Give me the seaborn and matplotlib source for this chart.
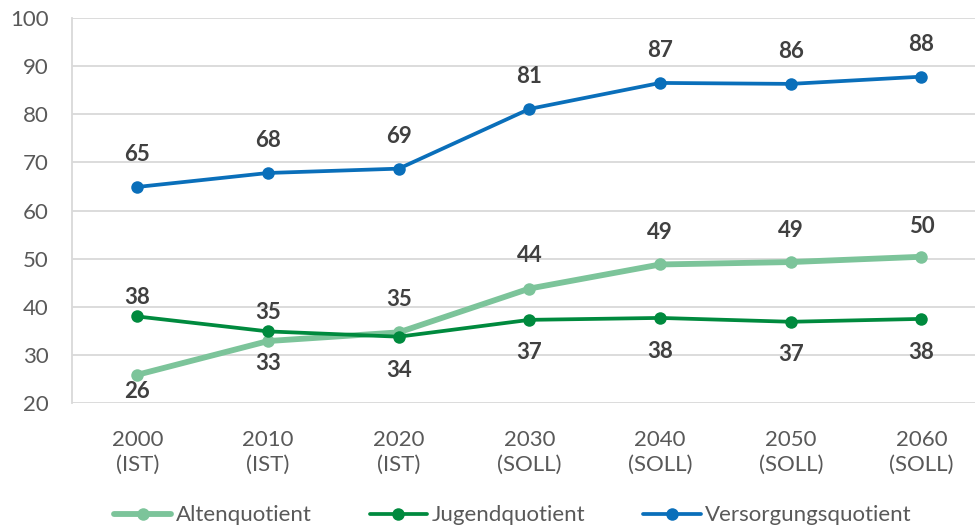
import matplotlib
matplotlib.use("Agg")
import matplotlib.pyplot as plt
import seaborn as sns
import pandas as pd

# chart data
years = ["2000\n(IST)", "2010\n(IST)", "2020\n(IST)", "2030\n(SOLL)",
         "2040\n(SOLL)", "2050\n(SOLL)", "2060\n(SOLL)"]
alten = [25.9, 32.9, 34.7, 43.8, 48.8, 49.3, 50.4]
jugend = [38.0, 34.9, 33.8, 37.3, 37.7, 36.9, 37.5]
versorgung = [64.9, 67.8, 68.7, 81.1, 86.5, 86.3, 87.8]
alten_lbl = [26, 33, 35, 44, 49, 49, 50]
jugend_lbl = [38, 35, 34, 37, 38, 37, 38]
versorgung_lbl = [65, 68, 69, 81, 87, 86, 88]

sns.set_style("white")
plt.rcParams['font.family'] = ['Lato', 'DejaVu Sans']

fig = plt.figure(figsize=(9.75, 5.27), dpi=100)
ax = fig.add_axes([0.074, 0.235, 0.926, 0.731])

series = [
    ("Altenquotient", alten, alten_lbl, "#7cc49a", 4.2,
     [-17, -22, 33, 33, 32, 32, 30]),
    ("Jugendquotient", jugend, jugend_lbl, "#008a3e", 2.7,
     [19, 19, -34, -33, -34, -33, -34]),
    ("Versorgungsquotient", versorgung, versorgung_lbl, "#0a6fba", 2.7,
     [32] * 7),
]

for name, vals, lbls, color, lw, offs in series:
    df = pd.DataFrame({"x": range(len(years)), "y": vals})
    sns.lineplot(data=df, x="x", y="y", ax=ax, color=color, linewidth=lw,
                 marker="o", markersize=9, markeredgewidth=0, label=name)
    for i, (v, t) in enumerate(zip(vals, lbls)):
        ax.annotate(str(t), (i, v), xytext=(0, offs[i] * 0.72),
                    textcoords="offset points", ha="center", va="center",
                    fontsize=16, fontweight="bold", color="#404040")

ax.set_ylim(20, 100)
ax.set_xlim(-0.5, 6.41)
ax.set_yticks(range(20, 101, 10))
ax.set_xticks(range(len(years)))
ax.set_xticklabels(years, linespacing=1.35)
ax.tick_params(axis="both", labelsize=16, labelcolor="#595959", length=0)
ax.tick_params(axis="x", pad=19)
ax.tick_params(axis="y", pad=17)
ax.set_xlabel("")
ax.set_ylabel("")
ax.grid(axis="y", color="#d9d9d9", linewidth=1.3)
ax.set_axisbelow(True)
for s in ["top", "right", "bottom"]:
    ax.spines[s].set_visible(False)
ax.spines["left"].set_color("#d9d9d9")
ax.spines["left"].set_linewidth(1.3)

handles, labels = ax.get_legend_handles_labels()
ax.get_legend().remove()
fig.legend(handles, labels, loc="lower center", bbox_to_anchor=(0.526, -0.035),
           ncol=3, frameon=False, fontsize=16, handlelength=2.6,
           handletextpad=0.2, columnspacing=2.6, labelcolor="#595959")

fig.savefig("out.png", dpi=100)
